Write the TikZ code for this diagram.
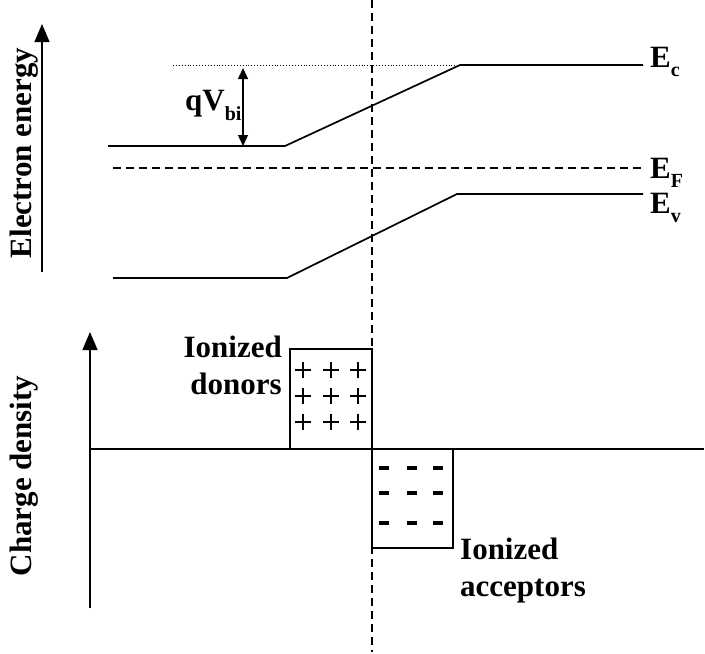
\documentclass[tikz,border=0pt]{standalone}
\usepackage{fontspec}
\setmainfont{Liberation Serif}
\usetikzlibrary{arrows.meta}
\begin{document}
\begin{tikzpicture}[x=1pt,y=-1pt,
  band/.style={line width=1.7pt},
  axisline/.style={line width=1.2pt},
  axarrow/.style={line width=1.3pt,-{Triangle[length=18pt,width=15pt]}},
  lbl/.style={font=\fontsize{31}{37}\selectfont\bfseries,inner sep=0pt},
  plus/.style={line width=1.7pt},
  minus/.style={line width=3.2pt}]
\useasboundingbox (0,0) rectangle (705,654);
% coordinates
\coordinate (eaxb) at (42,272);
\coordinate (eaxt) at (42,24);
\coordinate (ecdl) at (173,65);
\coordinate (ecr1) at (460,65);
\coordinate (ecr2) at (643,65);
\coordinate (ecl1) at (108,146);
\coordinate (ecl2) at (285,146);
\coordinate (efl) at (113,168);
\coordinate (efr) at (643,168);
\coordinate (evr1) at (457,194);
\coordinate (evr2) at (643,194);
\coordinate (evl1) at (113,278);
\coordinate (evl2) at (287,278);
\coordinate (qt) at (243,68);
\coordinate (qb) at (243,146);
\coordinate (divt) at (372,0);
\coordinate (divb) at (372,652);
\coordinate (caxb) at (90,608);
\coordinate (caxt) at (90,332);
\coordinate (hl) at (90,449);
\coordinate (hr) at (704,449);
% axes
\draw[axarrow] (eaxb) -- (eaxt);
\node[lbl,rotate=90] (elabel) at (24,153) {Electron energy};
\draw[axarrow] (caxb) -- (caxt);
\node[lbl,rotate=90] (clabel) at (24,476) {Charge density};
% divider
\draw[line width=1.2pt,dash pattern=on 8pt off 5pt] (divt) -- (divb);
% bands
\draw[line width=0.9pt,dotted] (ecdl) -- (ecr1);
\draw[band] (ecl1) -- (ecl2) -- (ecr1) -- (ecr2);
\draw[band,dash pattern=on 8pt off 5pt] (efl) -- (efr);
\draw[band] (evl1) -- (evl2) -- (evr1) -- (evr2);
\draw[line width=1.3pt,{Triangle[length=11pt,width=10pt]}-{Triangle[length=11pt,width=10pt]}] (qt) -- (qb);
\node[lbl,anchor=base west] (qv) at (185,110) {qV\raisebox{-0.33em}{\fontsize{20}{20}\selectfont bi}};
\node[lbl,anchor=base west] (ec) at (650,67) {E\raisebox{-0.3em}{\fontsize{20}{20}\selectfont c}};
\node[lbl,anchor=base west] (ef) at (650,178) {E\raisebox{-0.3em}{\fontsize{20}{20}\selectfont F}};
\node[lbl,anchor=base west] (ev) at (650,213) {E\raisebox{-0.3em}{\fontsize{20}{20}\selectfont v}};
% charge
\draw[axisline] (hl) -- (hr);
\coordinate (d1) at (290,449);
\coordinate (d2) at (290,349);
\coordinate (d3) at (372,349);
\coordinate (d4) at (372,449);
\draw[axisline] (d1) -- (d2) -- (d3) -- (d4);
\coordinate (a1) at (372,548);
\coordinate (a2) at (453,548);
\coordinate (a3) at (453,449);
\draw[axisline] (d4) -- (a1) -- (a2) -- (a3);
\foreach \px/\i in {303/1,331/2,358/3}{
  \foreach \py/\j in {370/1,396/2,422/3}{
    \coordinate (pc\i\j) at (\px,\py);
    \draw[plus] ([xshift=-8pt]pc\i\j) -- ([xshift=8pt]pc\i\j)
                ([yshift=-8pt]pc\i\j) -- ([yshift=8pt]pc\i\j);
  }
}
\foreach \px/\i in {384/1,412/2,438/3}{
  \foreach \py/\j in {468/1,493/2,523/3}{
    \coordinate (ml\i\j) at (\px-5,\py);
    \coordinate (mr\i\j) at (\px+5,\py);
    \draw[minus] (ml\i\j) -- (mr\i\j);
  }
}
\node[lbl,align=right,anchor=north east] (don) at (282,336) {Ionized\\donors};
\node[lbl,align=left,anchor=north west] (acc) at (460,538) {Ionized\\acceptors};
\end{tikzpicture}
\end{document}
